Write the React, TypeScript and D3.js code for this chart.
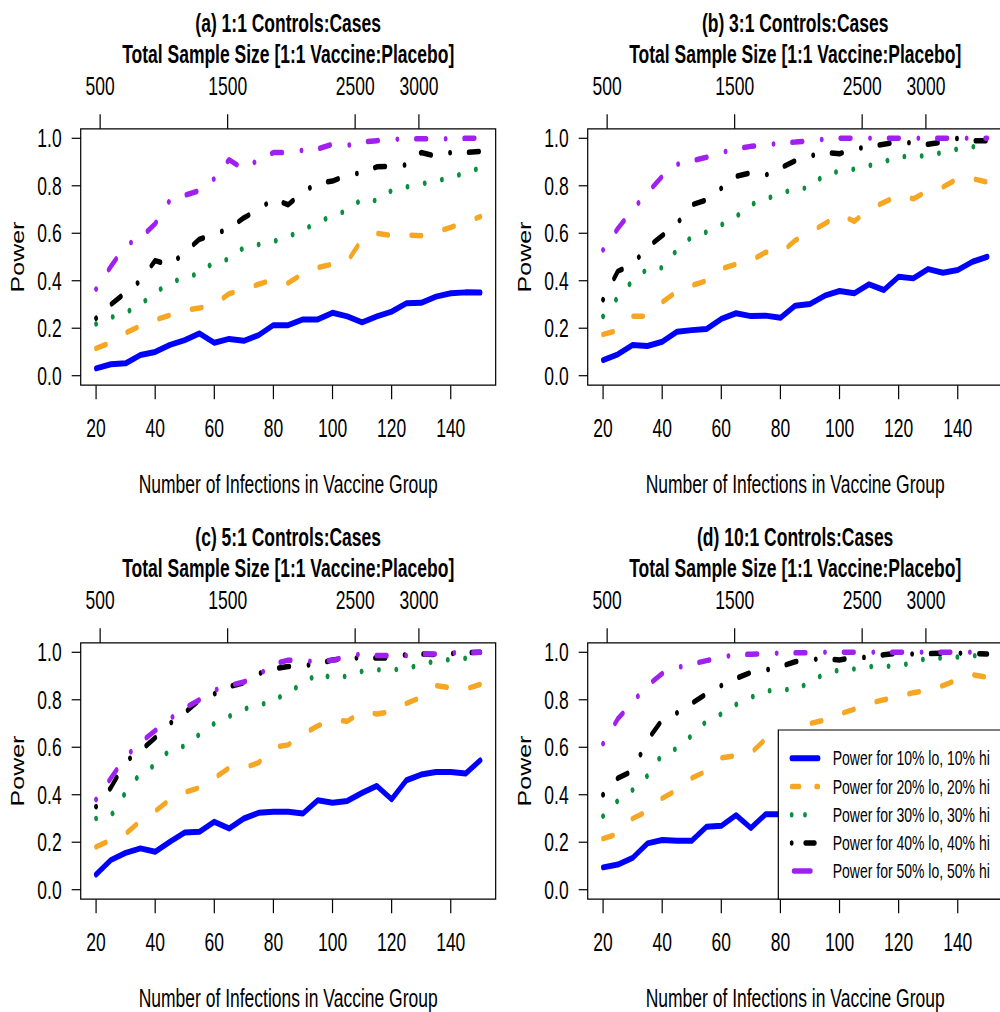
import React from 'react';
import * as d3 from 'd3';

// x values: number of infections in the vaccine group
const infections = [20, 25, 30, 35, 40, 45, 50, 55, 60, 65, 70, 75, 80, 85, 90, 95, 100, 105, 110, 115, 120, 125, 130, 135, 140, 145, 150];
const xTicks = [20, 40, 60, 80, 100, 120, 140];
const yTicks = [0, 0.2, 0.4, 0.6, 0.8, 1.0];
const topTicks = [500, 1500, 2500, 3000];

const panelTitles = ['(a) 1:1 Controls:Cases', '(b) 3:1 Controls:Cases', '(c) 5:1 Controls:Cases', '(d) 10:1 Controls:Cases'];
const subTitle = 'Total Sample Size [1:1 Vaccine:Placebo]';
const xTitle = 'Number of Infections in Vaccine Group';
const yTitle = 'Power';
const legendLabels = ['Power for 10% lo, 10% hi', 'Power for 20% lo, 20% hi', 'Power for 30% lo, 30% hi', 'Power for 40% lo, 40% hi', 'Power for 50% lo, 50% hi'];
const lineColors = ['#0000FF', '#F5A623', '#0A8F3E', '#000000', '#A020F0'];

// (a) 1:1
const blueA = [.031, .048, .052, .087, .10, .13, .15, .178, .139, .155, .147, .171, .213, .213, .237, .237, .265, .25, .225, .25, .27, .305, .307, .333, .347, .351, .35];
const orangeA = [.115, .14, .18, .21, .235, .255, .275, .285, .30, .345, .365, .385, .405, .39, .43, .455, .47, .48, .575, .60, .59, .593, .59, .605, .625, .645, .67];
const greenA = [.218, .245, .265, .30, .35, .39, .415, .43, .48, .49, .54, .553, .565, .585, .615, .645, .675, .695, .745, .737, .78, .795, .808, .82, .835, .855, .875];
const blackA = [.242, .30, .35, .40, .485, .465, .52, .575, .595, .62, .665, .70, .745, .72, .775, .81, .82, .845, .855, .88, .883, .888, .94, .925, .94, .94, .945];
const purpleA = [.365, .46, .55, .58, .64, .74, .76, .78, .83, .91, .87, .91, .94, .94, .95, .955, .975, .97, .985, .99, .995, .997, .998, .998, .998, 1, 1];

// (b) 3:1
const blueB = [.066, .09, .129, .125, .143, .185, .192, .197, .239, .263, .251, .253, .244, .295, .302, .337, .357, .347, .385, .361, .417, .41, .449, .434, .445, .48, .501];
const orangeB = [.174, .19, .25, .25, .31, .355, .38, .40, .45, .47, .485, .52, .515, .57, .605, .64, .68, .65, .70, .73, .76, .745, .78, .795, .83, .83, .815];
const greenB = [.25, .33, .40, .45, .455, .53, .585, .605, .635, .67, .72, .745, .765, .79, .79, .85, .86, .87, .885, .90, .925, .92, .93, .94, .955, .965, .96];
const blackB = [.32, .44, .47, .54, .59, .64, .72, .74, .79, .84, .855, .845, .875, .905, .925, .94, .935, .955, .965, .975, .985, .98, .975, .985, 1.0, .99, .99];
const purpleB = [.53, .62, .70, .77, .84, .89, .905, .92, .94, .955, .966, .972, .98, .984, .99, .996, 1, 1, 1, 1, 1, 1, 1, 1, 1, 1, 1];

// (c) 5:1
const blueC = [.064, .125, .155, .174, .16, .202, .241, .244, .286, .258, .30, .324, .328, .328, .321, .377, .366, .374, .408, .437, .381, .461, .485, .496, .496, .489, .545];
const orangeC = [.18, .21, .235, .29, .33, .38, .41, .43, .47, .513, .513, .535, .60, .61, .655, .69, .715, .71, .75, .74, .75, .785, .81, .86, .85, .845, .865];
const greenC = [.30, .31, .41, .49, .525, .59, .605, .655, .70, .73, .76, .78, .79, .84, .86, .915, .89, .90, .92, .927, .927, .93, .95, .963, .97, .975, .98];
const blackC = [.35, .43, .54, .585, .64, .70, .745, .80, .825, .855, .872, .91, .93, .94, .944, .95, .968, .974, .978, .976, .976, .99, .993, .99, .995, .998, 1];
const purpleC = [.38, .47, .56, .62, .67, .72, .765, .80, .84, .86, .875, .905, .95, .967, .962, .963, .966, .983, .993, .986, .986, .986, .993, .993, .998, .999, 1];

// (d) 10:1
const blueD = [.094, .106, .134, .195, .209, .206, .206, .265, .269, .314, .26, .318, .318, .349, .37, .415, .433, .384, .422, .444, .492, .51, .517, .489, .499, .517, .592];
const orangeD = [.215, .235, .30, .33, .385, .42, .47, .50, .555, .565, .575, .635, .60, .685, .70, .715, .74, .76, .785, .80, .815, .83, .84, .86, .885, .905, .895];
const greenD = [.31, .375, .42, .48, .57, .595, .65, .71, .74, .78, .81, .835, .845, .84, .875, .91, .925, .93, .94, .94, .945, .955, .978, .975, .98, .985, .988];
const blackD = [.40, .47, .50, .63, .715, .745, .785, .825, .86, .89, .915, .925, .94, .96, .97, .972, .968, .978, .979, .99, .996, .993, .995, .996, .996, .995, .993];
const purpleD = [.615, .72, .79, .86, .91, .935, .95, .965, .98, .99, .992, .995, .997, .998, .998, 1, 1, 1, 1, 1, 1, 1, 1, 1, 1, 1, 1];

const panels = [
  { title: panelTitles[0], series: [blueA, orangeA, greenA, blackA, purpleA], col: 0, row: 0, legend: false },
  { title: panelTitles[1], series: [blueB, orangeB, greenB, blackB, purpleB], col: 1, row: 0, legend: false },
  { title: panelTitles[2], series: [blueC, orangeC, greenC, blackC, purpleC], col: 0, row: 1, legend: false },
  { title: panelTitles[3], series: [blueD, orangeD, greenD, blackD, purpleD], col: 1, row: 1, legend: true },
];

// the whole figure is squeezed horizontally, like the original export
const SX = 0.7;
const FONT = "'Liberation Sans', Arial, Helvetica, sans-serif";
const COL_STEP = 507 / SX;
const ROW_STEP = 514;

// plot region of one panel (unscaled units)
const box = { left: 115.3, right: 708.1, top: 128.8, bottom: 385.2 };
const x = d3.scaleLinear().domain([14.8, 155.2]).range([box.left, box.right]);
const y = d3.scaleLinear().domain([-0.04, 1.04]).range([box.bottom, box.top]);
// total sample size axis on top, linear in infections
const xTop = d3.scaleLinear().domain(x.domain().map(v => 23.18 * v + 4.5)).range(x.range());

const lineStyles = [
  { width: 6, dash: undefined },
  { width: 5.5, dash: '14.5 33' },
  { width: 5.5, dash: '0.01 24.8' },
  { width: 5.5, dash: '0.01 26.5 15 27.5' },
  { width: 5.5, dash: '0.01 26.5 15 27.5' },
];
const legendDash = [undefined, '11 24', '0.01 19', '0.01 19.4 13.6 100', undefined];

const fmt = d3.format('.1f');

function Panel({ panel }) {
  const line = d3.line<number>()
    .x((d, i) => x(infections[i]))
    .y(d => y(d));
  const cx = (box.left + box.right) / 2;
  const cy = (box.top + box.bottom) / 2;

  // legend geometry
  const legLeft = box.right - 320.5;
  const legTop = box.top + 87.2;
  const rowY = i => legTop + 28.3 + i * 28.2;

  return (
    <g transform={`translate(${panel.col * COL_STEP},${panel.row * ROW_STEP})`}>
      {/* titles */}
      <text x={cx} y={31.7} textAnchor="middle" fontWeight="bold" fontSize={25}>{panel.title}</text>
      <text x={cx} y={63.3} textAnchor="middle" fontWeight="bold" fontSize={25}>{subTitle}</text>

      {/* series */}
      {panel.series.map((s, k) => (
        <path key={k} d={line(s) || ''} fill="none" stroke={lineColors[k]}
          strokeWidth={lineStyles[k].width} strokeDasharray={lineStyles[k].dash}
          strokeLinecap="round" strokeLinejoin="round" />
      ))}

      {/* box */}
      <rect x={box.left} y={box.top} width={box.right - box.left} height={box.bottom - box.top}
        fill="none" stroke="#000" strokeWidth={1.2} vectorEffect="non-scaling-stroke" />

      {/* bottom axis */}
      {xTicks.map(t => (
        <g key={t}>
          <line x1={x(t)} x2={x(t)} y1={box.bottom} y2={box.bottom + 14} stroke="#000" strokeWidth={1.2} vectorEffect="non-scaling-stroke" />
          <text x={x(t)} y={436.7} textAnchor="middle" fontSize={25}>{t}</text>
        </g>
      ))}
      <text x={cx} y={493.3} textAnchor="middle" fontSize={25}>{xTitle}</text>

      {/* top axis */}
      {topTicks.map(t => (
        <g key={t}>
          <line x1={xTop(t)} x2={xTop(t)} y1={box.top} y2={box.top - 14.5} stroke="#000" strokeWidth={1.2} vectorEffect="non-scaling-stroke" />
          <text x={xTop(t)} y={95} textAnchor="middle" fontSize={25}>{t}</text>
        </g>
      ))}

      {/* left axis */}
      {yTicks.map(t => (
        <g key={t}>
          <line x1={box.left} x2={box.left - 12.9} y1={y(t)} y2={y(t)} stroke="#000" strokeWidth={1.2} vectorEffect="non-scaling-stroke" />
          <text x={88.1} y={y(t)} dy="0.36em" textAnchor="end" fontSize={25}>{fmt(t)}</text>
        </g>
      ))}
      <text transform={`translate(34.3,${cy}) rotate(-90)`} textAnchor="middle" fontSize={25}>{yTitle}</text>

      {panel.legend && (
        <g>
          <rect x={legLeft} y={legTop} width={box.right - legLeft} height={box.bottom - legTop}
            fill="#fff" stroke="#000" strokeWidth={1.2} vectorEffect="non-scaling-stroke" />
          {legendLabels.map((lab, k) => (
            <g key={k}>
              <line x1={legLeft + (k === 4 ? 21.9 : 19.1)} x2={legLeft + (k === 4 ? 46.4 : 57.1)}
                y1={rowY(k)} y2={rowY(k)} stroke={lineColors[k]} strokeWidth={lineStyles[k].width}
                strokeDasharray={legendDash[k]} strokeLinecap="round" />
              <text x={legLeft + 77.7} y={rowY(k)} dy="0.36em" fontSize={20}>{lab}</text>
            </g>
          ))}
        </g>
      )}
    </g>
  );
}

export default function App() {
  return (
    <div style={{ position: 'absolute', left: 0, top: 0, background: '#fff' }}>
      <svg width={1000} height={1012} style={{ display: 'block' }} fontFamily={FONT}>
        <rect width={1000} height={1012} fill="#fff" />
        <g transform={`scale(${SX},1)`}>
          {panels.map((p, i) => <Panel key={i} panel={p} />)}
        </g>
      </svg>
    </div>
  );
}
